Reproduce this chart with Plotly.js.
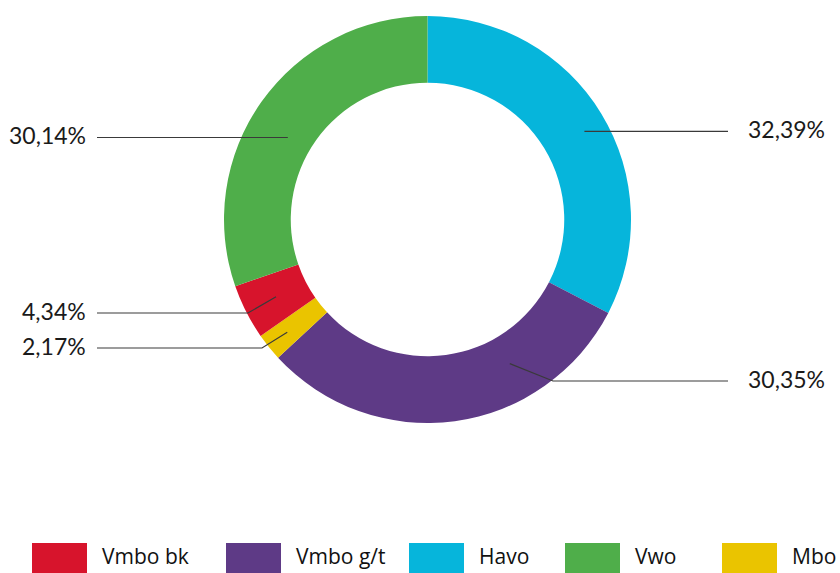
<!DOCTYPE html>
<html>
<head>
<meta charset="utf-8">
<script src="https://cdn.plot.ly/plotly-3.0.1.min.js"></script>
<style>
  html, body { margin: 0; padding: 0; background: #fff; }
  #chart { width: 840px; height: 573px; }
</style>
</head>
<body>
<div id="chart"></div>
<script>
// Data, clockwise from 12 o'clock
const categories = ['Havo', 'Vmbo g/t', 'Mbo', 'Vmbo bk', 'Vwo'];
const shares = [32.39, 30.35, 2.17, 4.34, 30.14];
const sliceColors = ['#06b5db', '#5e3a86', '#eac400', '#d7142c', '#4fae4a'];

// Legend order as in the picture
const legendOrder = ['Vmbo bk', 'Vmbo g/t', 'Havo', 'Vwo', 'Mbo'];

// Figure geometry (pixels)
const W = 840, H = 573;
const cx = 427.5, cy = 219.5, R = 203.5, hole = 0.672;

// Leader line layout per slice (same order as categories)
const leaderAngleShift = [2, -22, 0, 0, -5];
const leaderRadius = [180, 166, 180, 170, 162];
const leaderSide = ['right', 'right', 'left', 'left', 'left'];
const leaderLabelY = [null, 381, 348, 313, null]; // null = straight horizontal line
const leaderElbowX = [null, 553, 262, 248, null];

const px = x => x / W;
const py = y => 1 - y / H;

const fmt = v => v.toFixed(2).replace('.', ',') + '%';

const trace = {
    type: 'pie',
    labels: categories,
    values: shares,
    sort: false,
    direction: 'clockwise',
    rotation: 0,
    hole: hole,
    textinfo: 'none',
    hoverinfo: 'label+percent',
    showlegend: false,
    marker: { colors: sliceColors, line: { width: 0 } },
    domain: { x: [px(cx - R), px(cx + R)], y: [py(cy + R), py(cy - R)] }
};

const shapes = [];
const annotations = [];

// Leader lines + percent labels, anchored on each slice's angle
const total = shares.reduce((a, b) => a + b, 0);
let acc = 0;
shares.forEach((v, i) => {
    const mid = (acc + v / 2) / total * 360 + leaderAngleShift[i];
    acc += v;
    const t = mid * Math.PI / 180;
    const sx = cx + leaderRadius[i] * Math.sin(t);
    const sy = cy - leaderRadius[i] * Math.cos(t);
    const right = leaderSide[i] === 'right';
    const endX = right ? 728 : 97;
    let path;
    let ly;
    if (leaderLabelY[i] === null) {
        ly = sy;
        path = `M ${px(sx)} ${py(sy)} L ${px(endX)} ${py(sy)}`;
    } else {
        ly = leaderLabelY[i];
        path = `M ${px(sx)} ${py(sy)} L ${px(leaderElbowX[i])} ${py(ly)} L ${px(endX)} ${py(ly)}`;
    }
    shapes.push({
        type: 'path', xref: 'paper', yref: 'paper', path: path,
        line: { color: '#3a3a3a', width: 1.2 }
    });
    annotations.push({
        xref: 'paper', yref: 'paper',
        x: px(right ? endX + 18 : endX - 9), y: py(ly - 2),
        xanchor: right ? 'left' : 'right', yanchor: 'middle',
        text: fmt(v), showarrow: false,
        font: { family: 'Lato, "Open Sans", sans-serif', size: 23, color: '#1a1a1a' }
    });
});

// Custom legend with wide colour blocks
const legendBoxX = [32, 226, 409, 565, 722];
legendOrder.forEach((name, i) => {
    const col = sliceColors[categories.indexOf(name)];
    shapes.push({
        type: 'rect', xref: 'paper', yref: 'paper',
        x0: px(legendBoxX[i]), x1: px(legendBoxX[i] + 55),
        y0: py(573), y1: py(543),
        fillcolor: col, line: { width: 0 }
    });
    annotations.push({
        xref: 'paper', yref: 'paper',
        x: px(legendBoxX[i] + 69), y: py(556),
        xanchor: 'left', yanchor: 'middle',
        text: name, showarrow: false, borderpad: 0,
        font: { family: '"Open Sans", sans-serif', size: 21, color: '#111' }
    });
});

const layout = {
    width: W,
    height: H,
    margin: { t: 0, r: 0, b: 0, l: 0 },
    paper_bgcolor: '#ffffff',
    plot_bgcolor: '#ffffff',
    showlegend: false,
    shapes: shapes,
    annotations: annotations
};

Plotly.newPlot('chart', [trace], layout, { displayModeBar: false, staticPlot: true });
</script>
</body>
</html>
